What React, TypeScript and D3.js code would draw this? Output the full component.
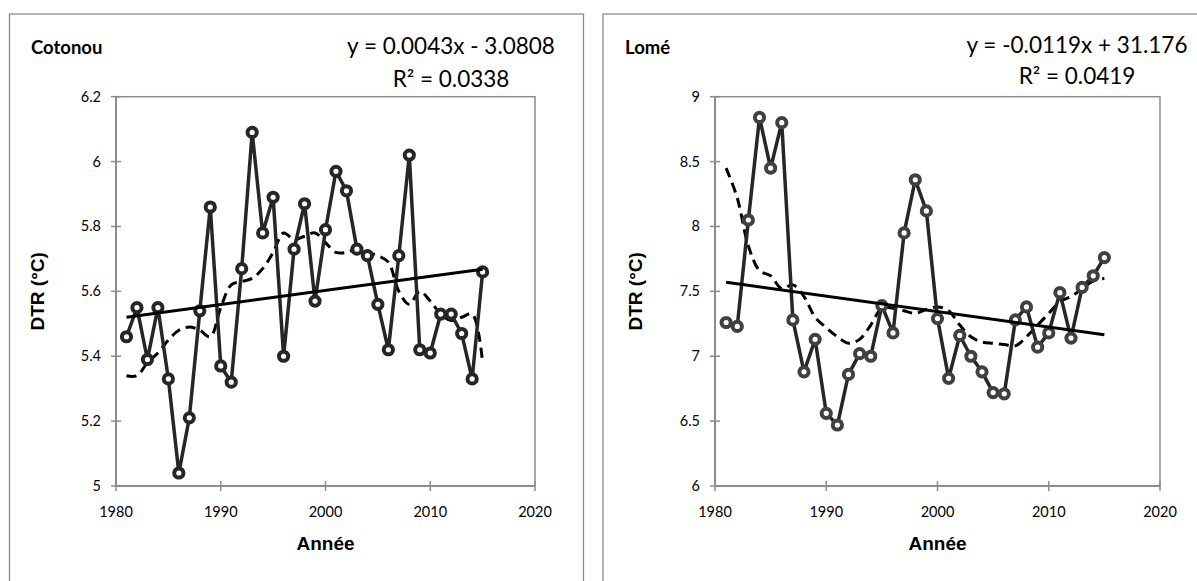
import * as d3 from "d3";

// ---- data ----
const years = [
  1981, 1982, 1983, 1984, 1985, 1986, 1987, 1988, 1989, 1990,
  1991, 1992, 1993, 1994, 1995, 1996, 1997, 1998, 1999, 2000,
  2001, 2002, 2003, 2004, 2005, 2006, 2007, 2008, 2009, 2010,
  2011, 2012, 2013, 2014, 2015,
];

// Cotonou DTR (°C)
const cotonouDtr = [
  5.46, 5.55, 5.39, 5.55, 5.33, 5.04, 5.21, 5.54, 5.86, 5.37,
  5.32, 5.67, 6.09, 5.78, 5.89, 5.40, 5.73, 5.87, 5.57, 5.79,
  5.97, 5.91, 5.73, 5.71, 5.56, 5.42, 5.71, 6.02, 5.42, 5.41,
  5.53, 5.53, 5.47, 5.33, 5.66,
];
// Cotonou smoothed series (dashed)
const cotonouSmooth = [
  5.34, 5.34, 5.38, 5.41, 5.45, 5.48, 5.49, 5.48, 5.46, 5.55,
  5.62, 5.63, 5.64, 5.67, 5.72, 5.78, 5.76, 5.77, 5.78, 5.75,
  5.72, 5.72, 5.73, 5.72, 5.71, 5.69, 5.6, 5.56, 5.6, 5.57,
  5.53, 5.51, 5.52, 5.53, 5.38,
];

// Lomé DTR (°C)
const lomeDtr = [
  7.26, 7.23, 8.05, 8.84, 8.45, 8.80, 7.28, 6.88, 7.13, 6.56,
  6.47, 6.86, 7.02, 7.00, 7.39, 7.18, 7.95, 8.36, 8.12, 7.29,
  6.83, 7.16, 7.00, 6.88, 6.72, 6.71, 7.28, 7.38, 7.07, 7.18,
  7.49, 7.14, 7.53, 7.62, 7.76,
];
// Lomé smoothed series (dashed)
const lomeSmooth = [
  8.45, 8.22, 7.85, 7.66, 7.62, 7.52, 7.55, 7.46, 7.3, 7.22,
  7.15, 7.1, 7.13, 7.24, 7.37, 7.37, 7.35, 7.33, 7.36, 7.38,
  7.35, 7.24, 7.15, 7.11, 7.1, 7.09, 7.08, 7.15, 7.24, 7.33,
  7.42, 7.46, 7.52, 7.58, 7.6,
];

const yearTicks = [1980, 1990, 2000, 2010, 2020];
const cotonouTicks = [5, 5.2, 5.4, 5.6, 5.8, 6, 6.2];
const lomeTicks = [6, 6.5, 7, 7.5, 8, 8.5, 9];

const cotonouEq = "y = 0.0043x - 3.0808";
const cotonouR2 = "R² = 0.0338";
const lomeEq = "y = -0.0119x + 31.176";
const lomeR2 = "R² = 0.0419";

const CAL = "Lato, 'Open Sans', sans-serif";
const ARIAL = "'Liberation Sans', Arial, sans-serif";

// least squares fit, like the Excel linear trendline
function fit(xs: number[], ys: number[]) {
  const mx = d3.mean(xs)!;
  const my = d3.mean(ys)!;
  let num = 0;
  let den = 0;
  xs.forEach((x, i) => {
    num += (x - mx) * (ys[i] - my);
    den += (x - mx) * (x - mx);
  });
  const slope = num / den;
  return (x: number) => my + slope * (x - mx);
}

type PanelProps = {
  boxX: number;
  boxR: number;
  plot: { x0: number; x1: number; y0: number; y1: number };
  values: number[];
  smooth: number[];
  yTicks: number[];
  title: string;
  titleX: number;
  eq: string;
  r2: string;
  eqX: number;
  eqY: number;
  r2Y: number;
  axisTitleX: number;
  markerColor: string;
};

function Panel(p: PanelProps) {
  const x = d3.scaleLinear().domain([1980, 2020]).range([p.plot.x0, p.plot.x1]);
  const y = d3
    .scaleLinear()
    .domain([p.yTicks[0], p.yTicks[p.yTicks.length - 1]])
    .range([p.plot.y1, p.plot.y0]);

  const pts = years.map((yr, i) => [yr, p.values[i]] as [number, number]);
  const smoothPts = years.map((yr, i) => [yr, p.smooth[i]] as [number, number]);

  const line = d3
    .line<[number, number]>()
    .x(d => x(d[0]))
    .y(d => y(d[1]));
  const smoothLine = d3
    .line<[number, number]>()
    .x(d => x(d[0]))
    .y(d => y(d[1]))
    .curve(d3.curveCatmullRom.alpha(0.5));

  const trend = fit(years, p.values);
  const first = years[0];
  const last = years[years.length - 1];

  const axisColor = "#8c8c8c";
  const midY = (p.plot.y0 + p.plot.y1) / 2;
  const midX = (p.plot.x0 + p.plot.x1) / 2;

  return (
    <g>
      {/* chart frame */}
      <rect
        x={p.boxX}
        y={14}
        width={p.boxR - p.boxX}
        height={600}
        fill="#fff"
        stroke="#8c8c8c"
        strokeWidth={1.3}
      />

      {/* titles */}
      <text x={p.titleX} y={54} fontFamily={CAL} fontWeight="bold" fontSize={18.5} fill="#000">
        {p.title}
      </text>
      <text x={p.eqX} y={p.eqY} textAnchor="middle" fontFamily={CAL} fontSize={22.5} fill="#000">
        {p.eq}
      </text>
      <text x={p.eqX} y={p.r2Y} textAnchor="middle" fontFamily={CAL} fontSize={22.5} fill="#000">
        {p.r2}
      </text>

      {/* plot area border */}
      <rect
        x={p.plot.x0}
        y={p.plot.y0}
        width={p.plot.x1 - p.plot.x0}
        height={p.plot.y1 - p.plot.y0}
        fill="none"
        stroke={axisColor}
        strokeWidth={1.5}
      />
      <line x1={p.plot.x0} x2={p.plot.x0} y1={p.plot.y0} y2={p.plot.y1} stroke={axisColor} strokeWidth={2} />
      <line x1={p.plot.x0} x2={p.plot.x1} y1={p.plot.y1} y2={p.plot.y1} stroke={axisColor} strokeWidth={2} />

      {/* y ticks */}
      {p.yTicks.map(t => (
        <g key={t}>
          <line x1={p.plot.x0 - 5} x2={p.plot.x0 + 5} y1={y(t)} y2={y(t)} stroke={axisColor} strokeWidth={1.5} />
          <text
            x={p.plot.x0 - 15}
            y={y(t) + 5}
            textAnchor="end"
            fontFamily={CAL}
            fontSize={14.5}
            fill="#000"
          >
            {String(t)}
          </text>
        </g>
      ))}

      {/* x ticks */}
      {yearTicks.map(t => (
        <g key={t}>
          <line x1={x(t)} x2={x(t)} y1={p.plot.y1 - 5} y2={p.plot.y1 + 5} stroke={axisColor} strokeWidth={1.5} />
          <text x={x(t)} y={p.plot.y1 + 31} textAnchor="middle" fontFamily={CAL} fontSize={14.5} fill="#000">
            {t}
          </text>
        </g>
      ))}

      {/* axis titles */}
      <text x={midX} y={550} textAnchor="middle" fontFamily={ARIAL} fontWeight="bold" fontSize={19} fill="#000">
        Année
      </text>
      <text
        transform={`translate(${p.axisTitleX},${midY}) rotate(-90)`}
        textAnchor="middle"
        fontFamily={ARIAL}
        fontWeight="bold"
        fontSize={19}
        fill="#000"
      >
        DTR (°C)
      </text>

      {/* smoothed series */}
      <path
        d={smoothLine(smoothPts) ?? ""}
        fill="none"
        stroke="#000"
        strokeWidth={3}
        strokeDasharray="10 6"
      />

      {/* observed series */}
      <path d={line(pts) ?? ""} fill="none" stroke="#262626" strokeWidth={3.5} strokeLinejoin="round" />
      {pts.map((d, i) => (
        <circle
          key={i}
          cx={x(d[0])}
          cy={y(d[1])}
          r={4.6}
          fill="#fff"
          stroke={p.markerColor}
          strokeWidth={4}
        />
      ))}

      {/* linear trend */}
      <line
        x1={x(first)}
        x2={x(last)}
        y1={y(trend(first))}
        y2={y(trend(last))}
        stroke="#000"
        strokeWidth={3}
      />
    </g>
  );
}

export default function App() {
  return (
    <svg
      width={1197}
      height={581}
      style={{ position: "absolute", left: 0, top: 0, background: "#fff" }}
    >
      <Panel
        boxX={9.5}
        boxR={583.5}
        plot={{ x0: 116, x1: 535, y0: 96.7, y1: 486 }}
        values={cotonouDtr}
        smooth={cotonouSmooth}
        yTicks={cotonouTicks}
        title="Cotonou"
        titleX={31}
        eq={cotonouEq}
        r2={cotonouR2}
        eqX={451}
        eqY={54}
        r2Y={87}
        axisTitleX={44}
        markerColor="#262626"
      />
      <Panel
        boxX={603}
        boxR={1210}
        plot={{ x0: 715, x1: 1160, y0: 96.7, y1: 486 }}
        values={lomeDtr}
        smooth={lomeSmooth}
        yTicks={lomeTicks}
        title="Lomé"
        titleX={625}
        eq={lomeEq}
        r2={lomeR2}
        eqX={1077}
        eqY={53}
        r2Y={84}
        axisTitleX={642}
        markerColor="#404040"
      />
    </svg>
  );
}
